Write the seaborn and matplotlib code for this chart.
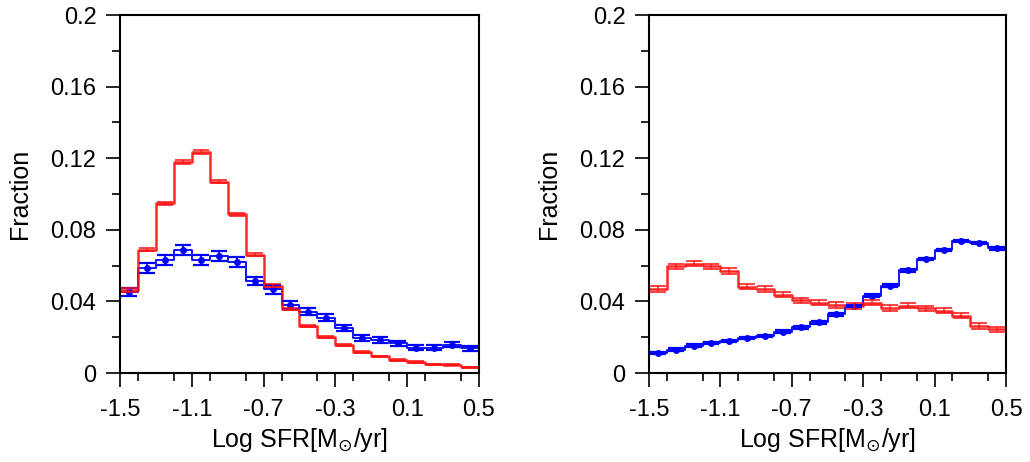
import numpy as np
import pandas as pd
import matplotlib
matplotlib.use("Agg")
import matplotlib.pyplot as plt
import seaborn as sns
from matplotlib.ticker import MultipleLocator, FixedLocator

sns.set_style("white")
plt.rcParams['font.family'] = ['Liberation Sans', 'DejaVu Sans']
plt.rcParams.update({'text.color': 'black', 'axes.labelcolor': 'black',
                     'xtick.color': 'black', 'ytick.color': 'black'})

edges = [round(-1.5 + 0.1 * i, 2) for i in range(21)]
centers = [round(-1.45 + 0.1 * i, 2) for i in range(20)]

left_red = [0.0464, 0.0690, 0.0948, 0.1177, 0.1233, 0.1069, 0.0886, 0.0661, 0.0488, 0.0358,
            0.0264, 0.0201, 0.0155, 0.0119, 0.0093, 0.0073, 0.0061, 0.0048, 0.0046, 0.0032]
left_red_err = [0.0010, 0.0010, 0.0010, 0.0012, 0.0012, 0.0010, 0.0010, 0.0010, 0.0008, 0.0008,
                0.0007, 0.0006, 0.0005, 0.0005, 0.0004, 0.0004, 0.0004, 0.0003, 0.0003, 0.0003]
left_blue = [0.0454, 0.0585, 0.0633, 0.0687, 0.0633, 0.0655, 0.0620, 0.0514, 0.0467, 0.0378,
             0.0343, 0.0309, 0.0250, 0.0196, 0.0184, 0.0166, 0.0141, 0.0141, 0.0158, 0.0138]
left_blue_err = [0.0022, 0.0028, 0.0028, 0.0030, 0.0028, 0.0028, 0.0028, 0.0025, 0.0024, 0.0022,
                 0.0020, 0.0020, 0.0018, 0.0016, 0.0015, 0.0015, 0.0013, 0.0013, 0.0014, 0.0013]

right_red = [0.0469, 0.0596, 0.0611, 0.0596, 0.0570, 0.0482, 0.0469, 0.0437, 0.0406, 0.0393,
             0.0380, 0.0374, 0.0393, 0.0363, 0.0376, 0.0361, 0.0348, 0.0320, 0.0263, 0.0244]
right_red_err = [0.0015] * 20
right_blue = [0.0112, 0.0130, 0.0153, 0.0168, 0.0180, 0.0196, 0.0208, 0.0231, 0.0255, 0.0283,
              0.0328, 0.0374, 0.0432, 0.0488, 0.0574, 0.0637, 0.0687, 0.0737, 0.0726, 0.0697]
right_blue_err = [0.0007] * 20

xticks = [-1.5, -1.1, -0.7, -0.3, 0.1, 0.5]
yticks = [0, 0.04, 0.08, 0.12, 0.16, 0.2]
ytick_labels = ["0", "0.04", "0.08", "0.12", "0.16", "0.2"]

RED = "#ff1010"
BLUE = "#0000ff"

fig = plt.figure(figsize=(10.3, 4.62), dpi=100)
ax1 = fig.add_axes([0.1165, 0.1926, 0.3485, 0.7749])
ax2 = fig.add_axes([0.6301, 0.1926, 0.3466, 0.7749])

def draw(ax, red, red_err, blue, blue_err):
    dfb = pd.DataFrame({"x": centers, "w": blue})
    dfr = pd.DataFrame({"x": centers, "w": red})
    sns.histplot(data=dfb, x="x", weights="w", bins=edges,
                 element="step", fill=False, color=BLUE, lw=1.3, ax=ax)
    sns.histplot(data=dfr, x="x", weights="w", bins=edges,
                 element="step", fill=False, color=RED, lw=1.8, alpha=0.9, ax=ax)
    ax.errorbar(centers, blue, yerr=blue_err, fmt='o', ms=4, color=BLUE, ecolor=BLUE,
                elinewidth=1.3, capsize=5.5, capthick=1.6, zorder=3)
    ax.errorbar(centers, red, yerr=red_err, fmt='none', ecolor=RED, elinewidth=1.1,
                capsize=5.5, capthick=1.3, alpha=0.85, zorder=4)
    ax.set_xlim(-1.5, 0.5)
    ax.set_ylim(0, 0.2)
    ax.xaxis.set_major_locator(FixedLocator(xticks))
    ax.set_xticklabels([str(t) for t in xticks])
    ax.xaxis.set_minor_locator(MultipleLocator(0.2))
    ax.yaxis.set_major_locator(FixedLocator(yticks))
    ax.set_yticklabels(ytick_labels)
    ax.yaxis.set_minor_locator(MultipleLocator(0.02))
    ax.tick_params(axis='both', which='both', direction='out', left=True, bottom=True,
                   top=False, right=False, color='black', labelcolor='black')
    ax.tick_params(axis='both', which='major', length=10, width=1.2, labelsize=17)
    ax.tick_params(axis='x', which='major', pad=9)
    ax.tick_params(axis='y', which='major', pad=7)
    ax.tick_params(axis='both', which='minor', length=5.5, width=1.2)
    for s in ax.spines.values():
        s.set_visible(True)
        s.set_color('black')
        s.set_linewidth(1.5)
    ax.set_xlabel(r"Log SFR[M$_{\odot}$/yr]", fontsize=18, labelpad=3, color='black')
    ax.set_ylabel("Fraction", fontsize=18, labelpad=13, color='black')
    ax.grid(False)

draw(ax1, left_red, left_red_err, left_blue, left_blue_err)
draw(ax2, right_red, right_red_err, right_blue, right_blue_err)

fig.savefig("out.png", dpi=100)
